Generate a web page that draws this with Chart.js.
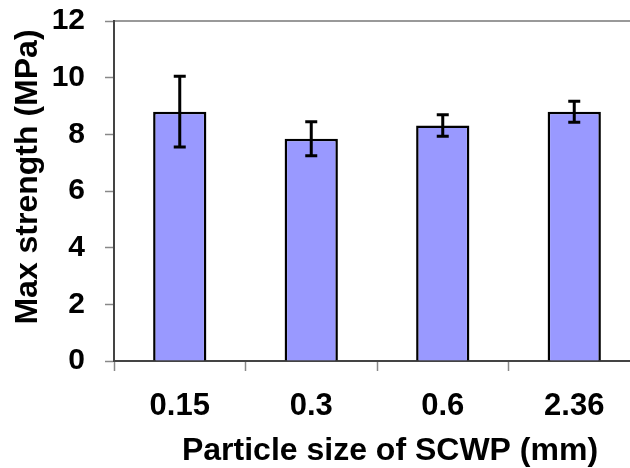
<!DOCTYPE html>
<html>
<head>
<meta charset="utf-8">
<script src="https://cdn.jsdelivr.net/npm/chart.js@4.4.1/dist/chart.umd.min.js"></script>
<style>
  html, body { margin: 0; padding: 0; background: #fff; overflow: hidden; }
  #wrap { width: 640px; height: 468px; position: relative; }
</style>
</head>
<body>
<div id="wrap"><canvas id="c"></canvas></div>
<script>
// Particle sizes (mm) and mean maximum strength (MPa) with standard deviations
const sizes = ['0.15', '0.3', '0.6', '2.36'];
const strength = [8.80, 7.84, 8.31, 8.80];
const stdDev = [1.25, 0.60, 0.38, 0.37];
const yTickValues = [0, 2, 4, 6, 8, 10, 12];

const FONT = '"Liberation Sans", Arial, sans-serif';

// Draws +/- standard deviation whiskers from the y scale
const errorBars = {
  id: 'errorBars',
  afterDatasetsDraw(chart) {
    const ctx = chart.ctx;
    const y = chart.scales.y;
    const meta = chart.getDatasetMeta(0);
    ctx.save();
    ctx.strokeStyle = '#000';
    ctx.lineWidth = 3;
    meta.data.forEach((bar, i) => {
      const x = bar.x;
      const top = y.getPixelForValue(strength[i] + stdDev[i]);
      const bot = y.getPixelForValue(strength[i] - stdDev[i]);
      ctx.beginPath();
      ctx.moveTo(x, top); ctx.lineTo(x, bot);
      ctx.moveTo(x - 6, top); ctx.lineTo(x + 6, top);
      ctx.moveTo(x - 6, bot); ctx.lineTo(x + 6, bot);
      ctx.stroke();
    });
    ctx.restore();
  }
};

// Axis titles
const axisTitles = {
  id: 'axisTitles',
  afterDraw(chart) {
    const ctx = chart.ctx;
    ctx.save();
    ctx.fillStyle = '#000';
    ctx.font = 'bold 32px ' + FONT;
    ctx.textAlign = 'center';
    ctx.textBaseline = 'alphabetic';
    ctx.fillText('Particle size of SCWP (mm)', 390, 460);
    ctx.translate(37, 177);
    ctx.rotate(-Math.PI / 2);
    ctx.fillText('Max strength (MPa)', 0, 0);
    ctx.restore();
  }
};

new Chart(document.getElementById('c'), {
  type: 'bar',
  data: {
    labels: sizes,
    datasets: [{
      data: strength,
      backgroundColor: '#9999FF',
      borderColor: '#000',
      borderWidth: 2.5,
      categoryPercentage: 1,
      barPercentage: 0.405
    }]
  },
  options: {
    responsive: true,
    maintainAspectRatio: false,
    animation: false,
    events: [],
    layout: { padding: { top: 21, left: 0, right: 0, bottom: 0 } },
    plugins: { legend: { display: false }, tooltip: { enabled: false } },
    scales: {
      x: {
        offset: true,
        afterFit(scale) { scale.height = 107; scale.paddingLeft = 0; scale.paddingRight = 0; },
        grid: {
          offset: true,
          drawOnChartArea: false,
          drawTicks: true,
          tickLength: 10,
          tickWidth: 1.5,
          tickColor: '#888'
        },
        border: { color: '#444', width: 2 },
        ticks: {
          color: '#000',
          padding: 17,
          font: { family: FONT, size: 31, weight: 'bold' }
        }
      },
      xTop: {
        position: 'top',
        display: true,
        afterFit(scale) { scale.height = 0; scale.paddingLeft = 0; scale.paddingRight = 0; },
        grid: { display: false, drawTicks: false },
        border: { color: '#999', width: 2 },
        ticks: { display: false }
      },
      y: {
        min: 0,
        max: 12,
        afterFit(scale) { scale.width = 114; scale.paddingTop = 0; scale.paddingBottom = 0; },
        afterBuildTicks(scale) { scale.ticks = yTickValues.map(v => ({ value: v })); },
        grid: {
          drawOnChartArea: false,
          drawTicks: true,
          tickLength: 9,
          tickWidth: 1.5,
          tickColor: '#888'
        },
        border: { color: '#444', width: 2 },
        ticks: {
          color: '#000',
          padding: 20,
          font: { family: FONT, size: 30, weight: 'bold' }
        }
      }
    }
  },
  plugins: [errorBars, axisTitles]
});
</script>
</body>
</html>
